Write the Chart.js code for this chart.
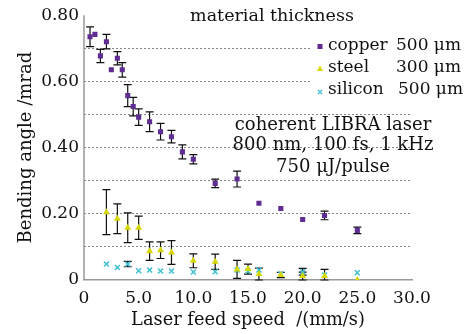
<!DOCTYPE html>
<html>
<head>
<meta charset="utf-8">
<script src="https://cdn.jsdelivr.net/npm/chart.js@4/dist/chart.umd.min.js"></script>
<style>
  html, body { margin: 0; padding: 0; background: #fff; }
  #wrap { width: 474px; height: 334px; }
</style>
</head>
<body>
<div id="wrap"><canvas id="chart" width="474" height="334"></canvas></div>
<script>
// Данные
const copperX   = [0.55, 1.0, 1.5, 2.05, 2.5, 3.05, 3.5, 4.0, 4.5, 5.0, 6.0, 7.0, 8.0, 9.0, 10.0, 12.0, 14.0, 16.0, 18.0, 20.0, 22.0, 25.0];
const copperY   = [0.735, 0.742, 0.677, 0.72, 0.635, 0.67, 0.635, 0.557, 0.524, 0.492, 0.478, 0.448, 0.433, 0.387, 0.365, 0.292, 0.305, 0.232, 0.216, 0.183, 0.195, 0.15];
const copperErr = [0.03, 0, 0.02, 0.022, 0, 0.02, 0.022, 0.033, 0.028, 0.025, 0.03, 0.025, 0.019, 0.021, 0.014, 0.013, 0.024, 0, 0, 0, 0.013, 0.01];

const steelX   = [2.05, 3.05, 4.0, 5.0, 6.0, 7.0, 8.0, 10.0, 12.0, 14.0, 15.0, 16.0, 18.0, 20.0, 22.0, 25.0];
const steelY   = [0.205, 0.185, 0.158, 0.158, 0.087, 0.09, 0.083, 0.058, 0.055, 0.032, 0.033, 0.018, 0.015, 0.012, 0.012, 0.0];
const steelErr = [0.068, 0.045, 0.045, 0.035, 0.028, 0.025, 0.036, 0.021, 0.023, 0.027, 0.015, 0.018, 0.008, 0.012, 0.02, 0];

const siliconX   = [2.05, 3.05, 4.0, 5.0, 6.0, 7.0, 8.0, 10.0, 12.0, 14.0, 15.0, 16.0, 18.0, 20.0, 22.0, 25.0];
const siliconY   = [0.048, 0.038, 0.048, 0.028, 0.03, 0.027, 0.027, 0.024, 0.025, 0.03, 0.027, 0.03, 0.018, 0.025, 0.015, 0.022];
const siliconErr = [0, 0, 0.008, 0, 0, 0, 0, 0, 0, 0, 0, 0, 0, 0.01, 0, 0];

const xTicks = [0, 5, 10, 15, 20, 25, 30];

const SERIF = '"DejaVu Serif", "Liberation Serif", serif';
const PURPLE = '#5e2c92';
const YELLOW = '#d6d600';
const CYAN = '#3ec1d3';

function toPoints(xs, ys, errs) {
    return xs.map((x, i) => ({ x: x, y: ys[i], err: errs[i] }));
}

// Оси (сплошные) и усы погрешностей под маркерами
const errorBarPlugin = {
    id: 'errorBars',
    beforeDatasetsDraw(chart) {
        const ctx = chart.ctx;
        const xs = chart.scales.x, ys = chart.scales.y;
        const a = chart.chartArea;
        ctx.save();
        ctx.strokeStyle = '#999';
        ctx.lineWidth = 1.5;
        ctx.beginPath();
        ctx.moveTo(a.left, a.top); ctx.lineTo(a.left, a.bottom);
        ctx.stroke();

        ctx.strokeStyle = '#111';
        ctx.lineWidth = 1.2;
        chart.data.datasets.forEach(ds => {
            ds.data.forEach(p => {
                if (!p.err) return;
                const px = xs.getPixelForValue(p.x);
                const top = ys.getPixelForValue(p.y + p.err);
                const bot = ys.getPixelForValue(Math.max(p.y - p.err, 0));
                ctx.beginPath();
                ctx.moveTo(px, top); ctx.lineTo(px, bot);
                ctx.moveTo(px - 4, top); ctx.lineTo(px + 4, top);
                ctx.moveTo(px - 4, bot); ctx.lineTo(px + 4, bot);
                ctx.stroke();
            });
        });
        ctx.restore();
    }
};

// Легенда и подписи поверх графика
const notesPlugin = {
    id: 'notes',
    afterDraw(chart) {
        const ctx = chart.ctx;
        ctx.save();
        ctx.fillStyle = '#fff';
        ctx.fillRect(312, 36, 160, 62);

        ctx.fillStyle = '#111';
        ctx.font = '17.5px ' + SERIF;
        ctx.textBaseline = 'middle';
        ctx.textAlign = 'center';
        ctx.fillText('material thickness', 272, 16);

        ctx.font = '17px ' + SERIF;
        const rows = [
            ['copper', '500 μm', 'rect', PURPLE],
            ['steel', '300 μm', 'triangle', YELLOW],
            ['silicon', '500 μm', 'crossRot', CYAN]
        ];
        rows.forEach((r, i) => {
            const y = 46 + i * 22;
            ctx.fillStyle = '#111';
            ctx.textAlign = 'left';
            ctx.fillText(r[0], 328, y);
            ctx.fillText(r[1], i === 2 ? 398 : 396, y);
            ctx.fillStyle = r[3];
            ctx.strokeStyle = r[3];
            ctx.beginPath();
            if (r[2] === 'rect') {
                ctx.fillRect(317.5, y - 2, 5, 5);
            } else if (r[2] === 'triangle') {
                ctx.moveTo(320, y - 2.5); ctx.lineTo(323, y + 3); ctx.lineTo(317, y + 3); ctx.closePath(); ctx.fill();
            } else {
                ctx.lineWidth = 1.2;
                ctx.moveTo(318, y); ctx.lineTo(322, y + 4);
                ctx.moveTo(322, y); ctx.lineTo(318, y + 4); ctx.stroke();
            }
        });

        ctx.font = '18px ' + SERIF;
        ctx.fillStyle = '#111';
        ctx.textAlign = 'center';
        ctx.fillText('coherent LIBRA laser', 333, 125);
        ctx.fillText('800 nm, 100 fs, 1 kHz', 333, 145);
        ctx.fillText('750 μJ/pulse', 333, 167);
        ctx.restore();
    }
};

new Chart(document.getElementById('chart').getContext('2d'), {
    type: 'scatter',
    data: {
        datasets: [
            {
                label: 'copper 500 μm',
                data: toPoints(copperX, copperY, copperErr),
                pointStyle: 'rect',
                pointRadius: 3.6,
                backgroundColor: PURPLE,
                borderColor: PURPLE,
                borderWidth: 0
            },
            {
                label: 'steel 300 μm',
                data: toPoints(steelX, steelY, steelErr),
                pointStyle: 'triangle',
                pointRadius: 4,
                backgroundColor: YELLOW,
                borderColor: YELLOW,
                borderWidth: 0
            },
            {
                label: 'silicon 500 μm',
                data: toPoints(siliconX, siliconY, siliconErr),
                pointStyle: 'crossRot',
                pointRadius: 3.5,
                backgroundColor: CYAN,
                borderColor: CYAN,
                borderWidth: 1.5
            }
        ]
    },
    options: {
        responsive: false,
        animation: false,
        layout: { padding: { top: 6, right: 62, left: 0, bottom: 0 } },
        plugins: {
            legend: { display: false },
            tooltip: { enabled: false }
        },
        scales: {
            x: {
                type: 'linear',
                min: 0, max: 30,
                afterBuildTicks: s => { s.ticks = xTicks.map(v => ({ value: v })); },
                ticks: {
                    color: '#111',
                    font: { family: SERIF, size: 17 },
                    padding: 8,
                    maxRotation: 0,
                    callback: v => v === 0 ? '0' : v.toFixed(1)
                },
                grid: { display: true, drawOnChartArea: false, drawTicks: false, color: '#888' },
                border: { color: '#999', width: 1.5 },
                title: {
                    display: true,
                    text: 'Laser feed speed  /(mm/s)',
                    color: '#111',
                    font: { family: SERIF, size: 17.8 },
                    padding: { top: 0, bottom: 3 }
                },
                afterFit: s => { s.height = 54; }
            },
            y: {
                min: 0, max: 0.8,
                ticks: {
                    stepSize: 0.1,
                    color: '#111',
                    font: { family: SERIF, size: 17 },
                    padding: 5,
                    callback: v => {
                        const r = Math.round(v * 10);
                        if (r === 0) return '0';
                        return r % 2 === 0 ? (r / 10).toFixed(2) : '';
                    }
                },
                grid: {
                    drawTicks: false,
                    color: c => {
                        const r = Math.round(c.tick.value * 10);
                        return (r === 0 || r === 8) ? 'rgba(0,0,0,0)' : '#666';
                    },
                    lineWidth: 0.8
                },
                border: { display: false, dash: [2, 2] },
                title: {
                    display: true,
                    text: 'Bending angle /mrad',
                    color: '#111',
                    font: { family: SERIF, size: 18 },
                    padding: { top: 16, bottom: 0 }
                },
                afterFit: s => { s.width = 84; }
            }
        }
    },
    plugins: [errorBarPlugin, notesPlugin]
});
</script>
</body>
</html>
